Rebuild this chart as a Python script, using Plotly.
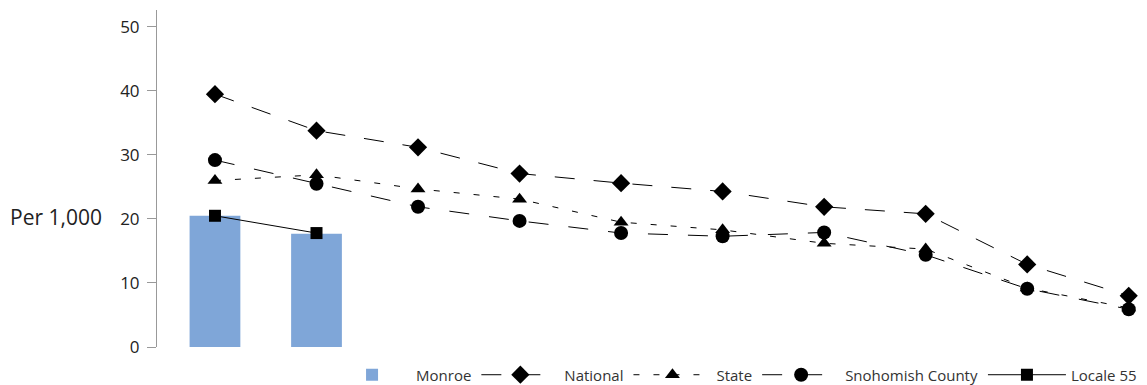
import plotly.graph_objects as go

categories = ["1", "2", "3", "4", "5", "6", "7", "8", "9", "10"]
monroe = [20.5, 17.7]
locale55 = [20.5, 17.8]
national = [39.5, 33.8, 31.2, 27.1, 25.6, 24.3, 21.9, 20.8, 12.9, 8.0]
state = [26.0, 26.9, 24.7, 23.1, 19.5, 18.3, 16.2, 15.3, 9.2, 6.1]
snohomish = [29.2, 25.5, 21.9, 19.7, 17.8, 17.3, 17.9, 14.4, 9.1, 5.9]

fig = go.Figure()
fig.add_trace(go.Bar(x=categories[:2], y=monroe, name="Monroe",
                     marker=dict(color="#7FA6D8", line=dict(width=0))))
fig.add_trace(go.Scatter(x=categories, y=national, name="National", mode="lines+markers",
                         line=dict(color="black", width=1, dash="20px,19px"),
                         marker=dict(symbol="diamond", size=14, color="black")))
fig.add_trace(go.Scatter(x=categories, y=state, name="State", mode="lines+markers",
                         line=dict(color="black", width=1, dash="6px,14px"),
                         marker=dict(symbol="triangle-up", size=13, color="black")))
fig.add_trace(go.Scatter(x=categories, y=snohomish, name="Snohomish County", mode="lines+markers",
                         line=dict(color="black", width=1, dash="20px,20px"),
                         marker=dict(symbol="circle", size=14, color="black")))
fig.add_trace(go.Scatter(x=categories[:2], y=locale55, name="Locale 55", mode="lines+markers",
                         line=dict(color="black", width=1),
                         marker=dict(symbol="square", size=12, color="black")))

# page body has an 8px margin, so the figure is 8px smaller than the window
fig.update_layout(
    width=1139, height=377,
    margin=dict(l=149, r=0, t=2, b=38, autoexpand=False),
    plot_bgcolor="white", paper_bgcolor="white",
    font=dict(family="Open Sans", size=17, color="#222222"),
    bargap=0.5,
    showlegend=True,
    legend=dict(orientation="h", x=0.995, xanchor="right", y=-0.083, yanchor="middle",
                font=dict(size=15, color="#333333"), traceorder="normal",
                itemwidth=78, tracegroupgap=0),
    xaxis=dict(type="category", range=[-0.571, 9.18], showticklabels=False,
               showline=False, showgrid=False, zeroline=False, ticks=""),
    yaxis=dict(range=[0, 52.65], tickvals=[0, 10, 20, 30, 40, 50], showgrid=False,
               zeroline=False, showline=True, linecolor="#999999", linewidth=1,
               ticks="outside", ticklen=9, tickcolor="#999999", ticklabelstandoff=4),
    annotations=[dict(text="Per 1,000", xref="paper", yref="paper", x=-0.102, y=0.385,
                      xanchor="center", yanchor="middle", showarrow=False,
                      font=dict(size=21, color="#222222"))],
)

fig.write_html("out.html")
